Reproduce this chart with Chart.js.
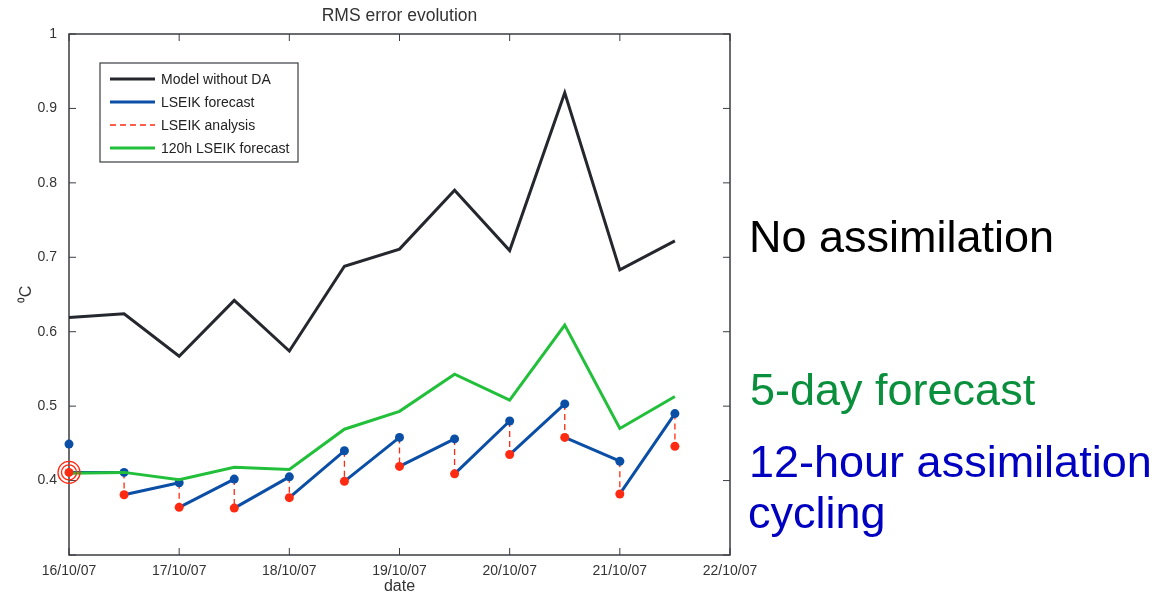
<!DOCTYPE html>
<html>
<head>
<meta charset="utf-8">
<script src="https://cdn.jsdelivr.net/npm/chart.js@4.4.0/dist/chart.umd.min.js"></script>
<style>
  body { margin: 0; background: #fff; }
  #wrap { position: relative; width: 1161px; height: 595px; }
  .note { position: absolute; font-family: "Liberation Sans", Arial, sans-serif; font-size: 45px; line-height: 45px; white-space: nowrap; }
</style>
</head>
<body>
<div id="wrap">
  <canvas id="rms-chart"></canvas>
  <div class="note" style="left:749px; top:214px; color:#000;">No assimilation</div>
  <div class="note" style="left:750px; top:367px; color:#0a8f3c;">5-day forecast</div>
  <div class="note" style="left:749px; top:439px; color:#0000c0;">12-hour assimilation</div>
  <div class="note" style="left:748px; top:490px; color:#0000c0;">cycling</div>
</div>
<script>
// times in days of October 2007 (every 12 hours)
times = [16, 16.5, 17, 17.5, 18, 18.5, 19, 19.5, 20, 20.5, 21, 21.5];
dayLabels = ['16/10/07', '17/10/07', '18/10/07', '19/10/07', '20/10/07', '21/10/07', '22/10/07'];

// RMS error values (deg C)
noDA = [0.619, 0.624, 0.567, 0.642, 0.574, 0.688, 0.711, 0.790, 0.709, 0.921, 0.683, 0.722];
forecast120h = [0.410, 0.411, 0.401, 0.418, 0.415, 0.469, 0.493, 0.543, 0.508, 0.609, 0.470, 0.513];
lseikForecast = [0.449, 0.411, 0.397, 0.402, 0.405, 0.440, 0.458, 0.456, 0.480, 0.503, 0.426, 0.490];
lseikAnalysis = [0.411, 0.381, 0.364, 0.363, 0.377, 0.399, 0.419, 0.409, 0.435, 0.458, 0.382, 0.446];

var black = '#24272d', blue = '#0b4ea6', red = '#ff2a12', green = '#22c03a';

// sawtooth: analysis at t -> forecast at t+12h
sawtooth = [];
for (var i = 0; i < times.length - 1; i++) {
    sawtooth.push({x: times[i], y: lseikAnalysis[i]});
    sawtooth.push({x: times[i + 1], y: lseikForecast[i + 1]});
    sawtooth.push({x: times[i + 1], y: null});
}
// dashed analysis jumps: forecast -> analysis at same time
jumps = [];
for (var i = 1; i < times.length; i++) {
    jumps.push({x: times[i], y: lseikForecast[i]});
    jumps.push({x: times[i], y: lseikAnalysis[i]});
    jumps.push({x: times[i], y: null});
}
function pts(arr) {
    return arr.map(function (v, i) { return {x: times[i], y: v}; });
}

// matlab style box with inward ticks + legend inside the axes
const boxPlugin = {
    id: 'box',
    beforeDatasetsDraw(chart) {
        const ctx = chart.ctx, a = chart.chartArea;
        const xs = chart.scales.x, ys = chart.scales.y;
        ctx.save();
        ctx.strokeStyle = '#3a3d42';
        ctx.lineWidth = 1.5;
        ctx.strokeRect(a.left, a.top, a.right - a.left, a.bottom - a.top);
        ctx.lineWidth = 1;
        ctx.beginPath();
        xs.ticks.forEach(function (t) {
            var px = xs.getPixelForValue(t.value);
            ctx.moveTo(px, a.bottom); ctx.lineTo(px, a.bottom - 7);
            ctx.moveTo(px, a.top); ctx.lineTo(px, a.top + 7);
        });
        ys.ticks.forEach(function (t) {
            var py = ys.getPixelForValue(t.value);
            ctx.moveTo(a.left, py); ctx.lineTo(a.left + 7, py);
            ctx.moveTo(a.right, py); ctx.lineTo(a.right - 7, py);
        });
        ctx.stroke();
        ctx.restore();
    },
    afterDraw(chart) {
        const ctx = chart.ctx, a = chart.chartArea;
        const items = chart.data.datasets.filter(function (d) { return d.label; });
        var bx = a.left + 31, by = a.top + 29;
        ctx.save();
        ctx.fillStyle = '#fff';
        ctx.fillRect(bx, by, 198, 99);
        ctx.strokeStyle = '#3a3d42';
        ctx.lineWidth = 1.2;
        ctx.strokeRect(bx, by, 198, 99);
        ctx.font = '14px "Liberation Sans", Arial, sans-serif';
        ctx.textBaseline = 'middle';
        items.forEach(function (d, k) {
            var y = by + 16 + k * 23;
            ctx.beginPath();
            ctx.strokeStyle = d.borderColor;
            ctx.lineWidth = d.borderDash ? 1.5 : 3;
            ctx.setLineDash(d.borderDash || []);
            ctx.moveTo(bx + 10, y); ctx.lineTo(bx + 55, y);
            ctx.stroke();
            ctx.setLineDash([]);
            ctx.fillStyle = '#222';
            ctx.fillText(d.label, bx + 61, y + 1);
        });
        ctx.restore();
    }
};

new Chart('rms-chart', {
    type: 'line',
    data: {
        datasets: [
            { // target marker at the start
                data: [{x: times[0], y: lseikAnalysis[0]}, {x: times[0], y: lseikAnalysis[0]}, {x: times[0], y: lseikAnalysis[0]}],
                showLine: false, clip: false, order: 0,
                pointRadius: [11, 7.5, 4.5], pointBorderWidth: [1.3, 1.3, 0],
                pointBackgroundColor: ['rgba(0,0,0,0)', 'rgba(0,0,0,0)', red], pointBorderColor: red
            },
            {
                label: 'Model without DA', data: pts(noDA),
                borderColor: black, borderWidth: 3, pointRadius: 0, order: 6, clip: false
            },
            {
                label: 'LSEIK forecast', data: sawtooth,
                borderColor: blue, borderWidth: 3, pointRadius: 0, spanGaps: false, order: 5, clip: false
            },
            {
                label: 'LSEIK analysis', data: jumps,
                borderColor: red, borderWidth: 1.3, borderDash: [6, 4], pointRadius: 0, spanGaps: false, order: 4
            },
            {
                label: '120h LSEIK forecast', data: pts(forecast120h),
                borderColor: green, borderWidth: 3, pointRadius: 0, order: 1, clip: false
            },
            { // forecast dots
                data: pts(lseikForecast), showLine: false, clip: false, order: 3,
                pointRadius: 4.5, pointBorderWidth: 0, pointBackgroundColor: blue
            },
            { // analysis dots
                data: pts(lseikAnalysis).slice(1), showLine: false, clip: false, order: 2,
                pointRadius: 4.5, pointBorderWidth: 0, pointBackgroundColor: red
            }
        ]
    },
    options: {
        responsive: true,
        maintainAspectRatio: false,
        animation: false,
        layout: { padding: { left: 0, right: 431, top: 0, bottom: 0 } },
        plugins: {
            legend: { display: false },
            tooltip: { enabled: false },
            title: {
                display: true,
                fullSize: false,
                text: 'RMS error evolution',
                color: '#333',
                font: { family: '"Liberation Sans", Arial, sans-serif', size: 17.5, weight: 'normal' },
                padding: { top: 6, bottom: 7 }
            }
        },
        scales: {
            x: {
                type: 'linear', min: 16, max: 22,
                grid: { display: false, drawTicks: false },
                border: { display: false },
                ticks: {
                    stepSize: 1, padding: 8, color: '#333',
                    font: { family: '"Liberation Sans", Arial, sans-serif', size: 14 },
                    callback: function (v) { return dayLabels[Math.round(v - 16)]; }
                },
                title: {
                    display: true, text: 'date', color: '#333',
                    font: { family: '"Liberation Sans", Arial, sans-serif', size: 16, lineHeight: 1 },
                    padding: { top: 0, bottom: 0 }
                },
                afterFit: function (s) { s.height = 40; }
            },
            y: {
                min: 0.3, max: 1,
                grid: { display: false, drawTicks: false },
                border: { display: false },
                ticks: {
                    stepSize: 0.1, padding: 12, color: '#333',
                    font: { family: '"Liberation Sans", Arial, sans-serif', size: 14 },
                    callback: function (v) { return v < 0.35 ? '' : String(Number(v.toFixed(1))); }
                },
                title: {
                    display: true, text: '⁰C', color: '#333',
                    font: { family: '"Liberation Sans", Arial, sans-serif', size: 16 },
                    padding: { top: 17, bottom: 0 }
                },
                afterFit: function (s) { s.width = 69; }
            }
        }
    },
    plugins: [boxPlugin]
});
</script>
</body>
</html>
